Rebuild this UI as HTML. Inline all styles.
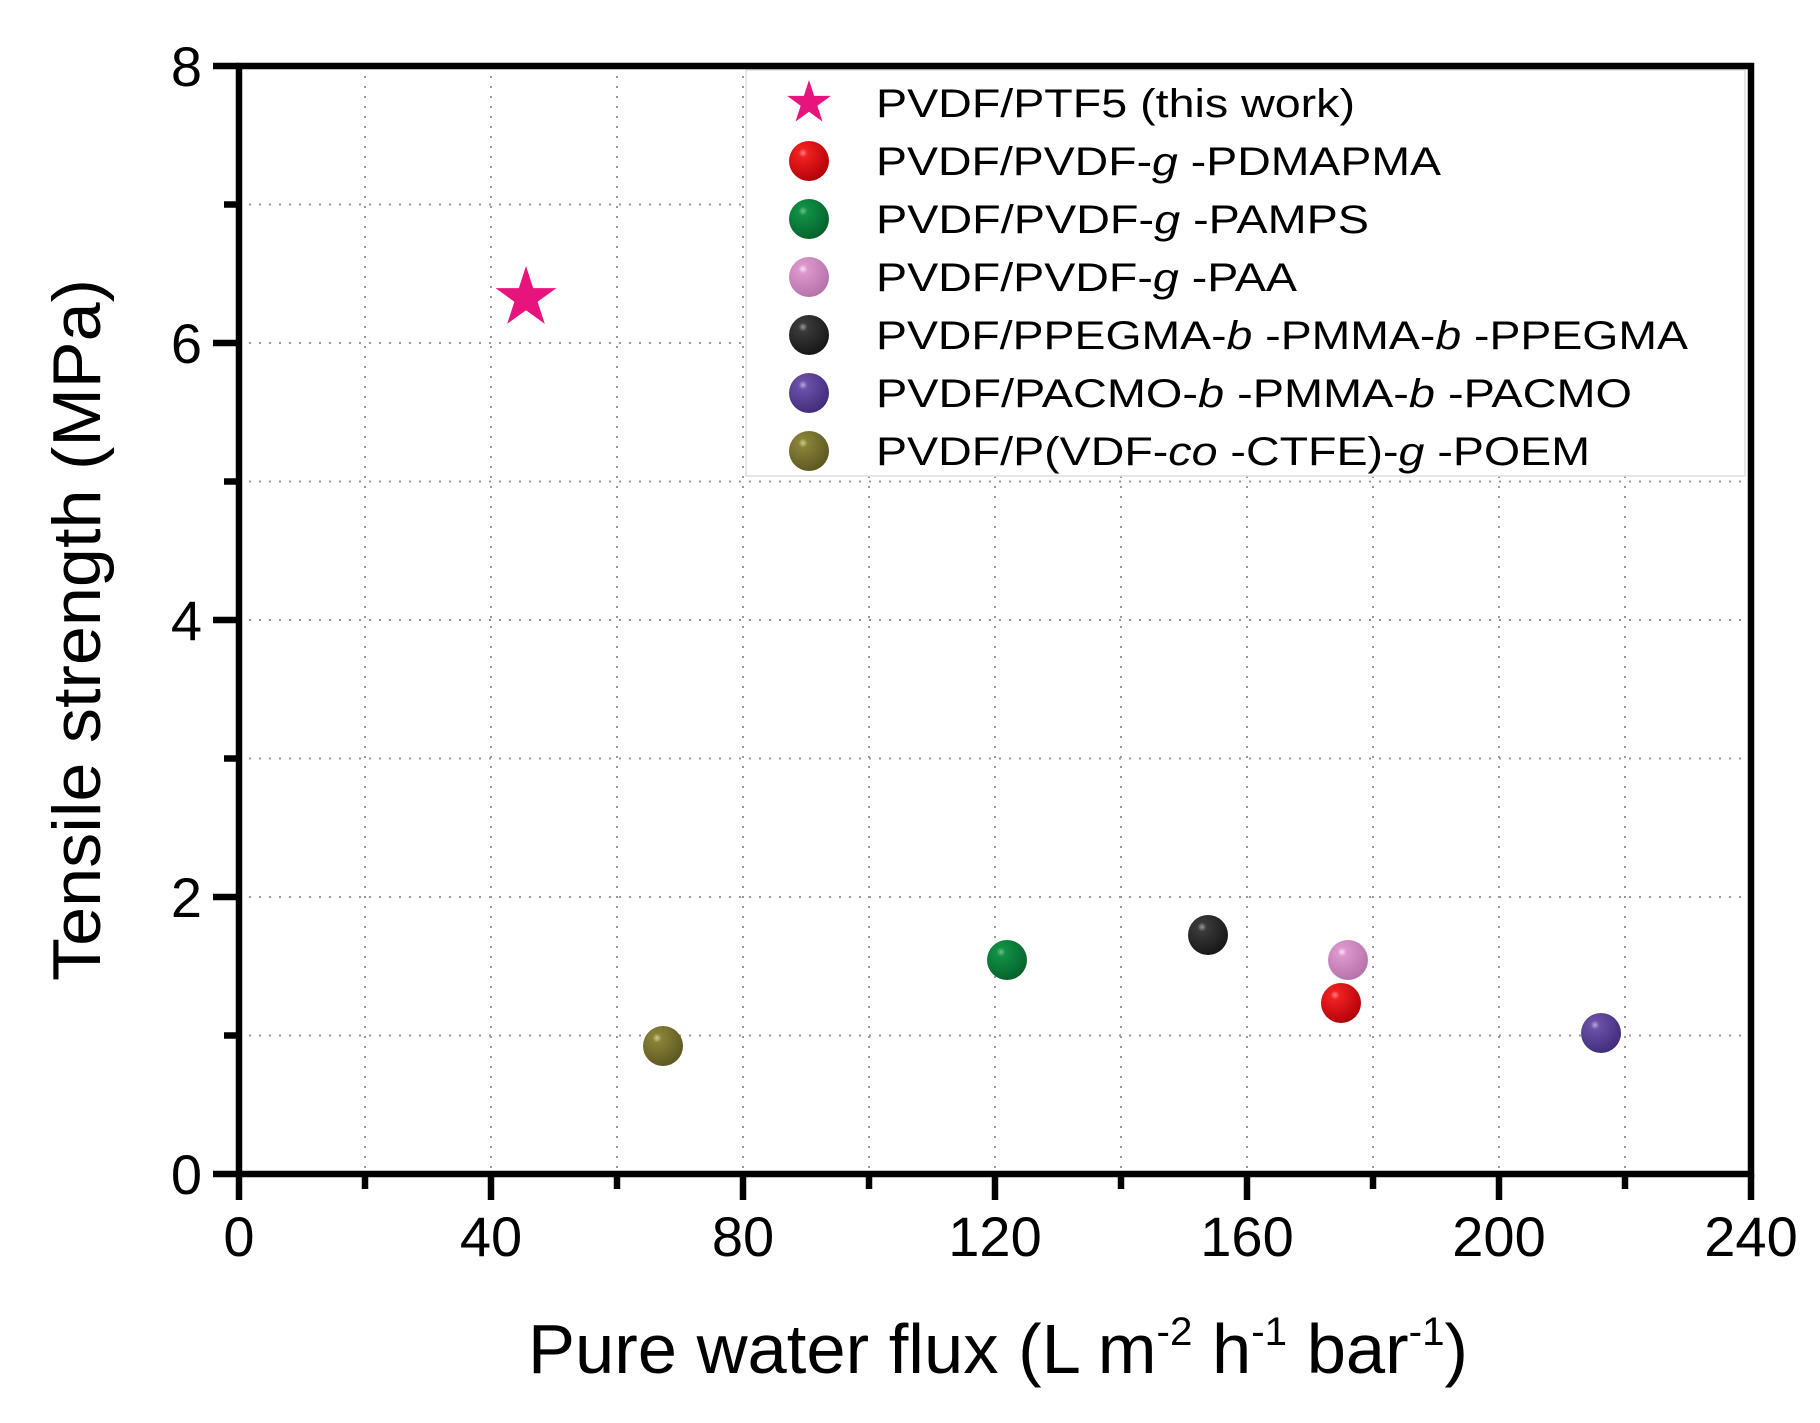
<!DOCTYPE html>
<html><head><meta charset="utf-8"><style>html,body{margin:0;padding:0;background:#fff}svg{display:block}</style></head>
<body>
<svg width="1820" height="1423" viewBox="0 0 1820 1423" xmlns="http://www.w3.org/2000/svg" font-family="Liberation Sans, Arial, sans-serif">
<defs>
<radialGradient id="gr" cx="0.35" cy="0.3" r="0.75"><stop offset="0" stop-color="#ff8080"/><stop offset="0.15" stop-color="#f02020"/><stop offset="1" stop-color="#b00008"/></radialGradient>
<radialGradient id="gg" cx="0.35" cy="0.3" r="0.75"><stop offset="0" stop-color="#70c090"/><stop offset="0.15" stop-color="#119045"/><stop offset="1" stop-color="#05602a"/></radialGradient>
<radialGradient id="gp" cx="0.35" cy="0.3" r="0.75"><stop offset="0" stop-color="#fbe0f4"/><stop offset="0.15" stop-color="#dc98cc"/><stop offset="1" stop-color="#b470a8"/></radialGradient>
<radialGradient id="gk" cx="0.35" cy="0.3" r="0.75"><stop offset="0" stop-color="#999"/><stop offset="0.15" stop-color="#3a3a3a"/><stop offset="1" stop-color="#151515"/></radialGradient>
<radialGradient id="gu" cx="0.35" cy="0.3" r="0.75"><stop offset="0" stop-color="#b8a8e0"/><stop offset="0.15" stop-color="#6a50a8"/><stop offset="1" stop-color="#3f2c78"/></radialGradient>
<radialGradient id="go" cx="0.35" cy="0.3" r="0.75"><stop offset="0" stop-color="#d0cc90"/><stop offset="0.15" stop-color="#888238"/><stop offset="1" stop-color="#5a5620"/></radialGradient>
</defs>
<g stroke="#999" stroke-width="2" stroke-dasharray="2,8">
<line x1="365" y1="66" x2="365" y2="1172"/><line x1="491" y1="66" x2="491" y2="1172"/><line x1="617" y1="66" x2="617" y2="1172"/><line x1="743" y1="66" x2="743" y2="1172"/><line x1="869" y1="66" x2="869" y2="1172"/><line x1="995" y1="66" x2="995" y2="1172"/><line x1="1121" y1="66" x2="1121" y2="1172"/><line x1="1247" y1="66" x2="1247" y2="1172"/><line x1="1373" y1="66" x2="1373" y2="1172"/><line x1="1499" y1="66" x2="1499" y2="1172"/><line x1="1625" y1="66" x2="1625" y2="1172"/>
<line x1="239" y1="1035.5" x2="1751" y2="1035.5"/><line x1="239" y1="897" x2="1751" y2="897"/><line x1="239" y1="758.5" x2="1751" y2="758.5"/><line x1="239" y1="620" x2="1751" y2="620"/><line x1="239" y1="481.5" x2="1751" y2="481.5"/><line x1="239" y1="343" x2="1751" y2="343"/><line x1="239" y1="204.5" x2="1751" y2="204.5"/>
</g>
<rect x="746" y="70" width="999" height="406" fill="#fff" stroke="#ddd" stroke-width="1.5"/>
<rect x="239" y="66" width="1512" height="1108" fill="none" stroke="#000" stroke-width="6.5"/>
<g stroke="#000" stroke-width="6.5">
<line x1="239" y1="1174" x2="239" y2="1200"/><line x1="491" y1="1174" x2="491" y2="1200"/><line x1="743" y1="1174" x2="743" y2="1200"/><line x1="995" y1="1174" x2="995" y2="1200"/><line x1="1247" y1="1174" x2="1247" y2="1200"/><line x1="1499" y1="1174" x2="1499" y2="1200"/><line x1="1751" y1="1174" x2="1751" y2="1200"/>
<line x1="365" y1="1174" x2="365" y2="1189"/><line x1="617" y1="1174" x2="617" y2="1189"/><line x1="869" y1="1174" x2="869" y2="1189"/><line x1="1121" y1="1174" x2="1121" y2="1189"/><line x1="1373" y1="1174" x2="1373" y2="1189"/><line x1="1625" y1="1174" x2="1625" y2="1189"/>
<line x1="213" y1="1174" x2="239" y2="1174"/><line x1="213" y1="897" x2="239" y2="897"/><line x1="213" y1="620" x2="239" y2="620"/><line x1="213" y1="343" x2="239" y2="343"/><line x1="213" y1="66" x2="239" y2="66"/>
<line x1="224" y1="1035.5" x2="239" y2="1035.5"/><line x1="224" y1="758.5" x2="239" y2="758.5"/><line x1="224" y1="481.5" x2="239" y2="481.5"/><line x1="224" y1="204.5" x2="239" y2="204.5"/>
</g>
<g font-size="56" text-anchor="middle" fill="#000">
<text x="239" y="1256">0</text><text x="491" y="1256">40</text><text x="743" y="1256">80</text><text x="995" y="1256">120</text><text x="1247" y="1256">160</text><text x="1499" y="1256">200</text><text x="1751" y="1256">240</text>
</g>
<g font-size="56" text-anchor="end" fill="#000">
<text x="202" y="1194">0</text><text x="202" y="917">2</text><text x="202" y="640">4</text><text x="202" y="363">6</text><text x="202" y="86">8</text>
</g>
<text x="528" y="1373" font-size="70" textLength="940" lengthAdjust="spacingAndGlyphs">Pure water flux (L m<tspan dy="-28" font-size="40">-2</tspan><tspan dy="28"> h</tspan><tspan dy="-28" font-size="40">-1</tspan><tspan dy="28"> bar</tspan><tspan dy="-28" font-size="40">-1</tspan><tspan dy="28">)</tspan></text>
<text transform="translate(100,630) rotate(-90)" font-size="68" text-anchor="middle" textLength="702" lengthAdjust="spacingAndGlyphs">Tensile strength (MPa)</text>
<g font-size="40" fill="#000">
<text x="876" y="117" textLength="479" lengthAdjust="spacingAndGlyphs">PVDF/PTF5 (this work)</text>
<text x="876" y="175" textLength="565" lengthAdjust="spacingAndGlyphs">PVDF/PVDF-<tspan font-style="italic">g</tspan> -PDMAPMA</text>
<text x="876" y="233" textLength="493" lengthAdjust="spacingAndGlyphs">PVDF/PVDF-<tspan font-style="italic">g</tspan> -PAMPS</text>
<text x="876" y="291" textLength="421" lengthAdjust="spacingAndGlyphs">PVDF/PVDF-<tspan font-style="italic">g</tspan> -PAA</text>
<text x="876" y="349" textLength="812" lengthAdjust="spacingAndGlyphs">PVDF/PPEGMA-<tspan font-style="italic">b</tspan> -PMMA-<tspan font-style="italic">b</tspan> -PPEGMA</text>
<text x="876" y="407" textLength="756" lengthAdjust="spacingAndGlyphs">PVDF/PACMO-<tspan font-style="italic">b</tspan> -PMMA-<tspan font-style="italic">b</tspan> -PACMO</text>
<text x="876" y="465" textLength="714" lengthAdjust="spacingAndGlyphs">PVDF/P(VDF-<tspan font-style="italic">co</tspan> -CTFE)-<tspan font-style="italic">g</tspan> -POEM</text>
</g>
<polygon fill="#e8147e" transform="translate(809,103) scale(23)" points="0,-1 0.2245,-0.309 0.951,-0.309 0.363,0.118 0.588,0.809 0,0.382 -0.588,0.809 -0.363,0.118 -0.951,-0.309 -0.2245,-0.309"/>
<circle cx="809" cy="161" r="20" fill="url(#gr)"/>
<circle cx="809" cy="219" r="20" fill="url(#gg)"/>
<circle cx="809" cy="277" r="20" fill="url(#gp)"/>
<circle cx="809" cy="335" r="20" fill="url(#gk)"/>
<circle cx="809" cy="393" r="20" fill="url(#gu)"/>
<circle cx="809" cy="451" r="20" fill="url(#go)"/>
<polygon fill="#e8147e" transform="translate(526,298) scale(32)" points="0,-1 0.2245,-0.309 0.951,-0.309 0.363,0.118 0.588,0.809 0,0.382 -0.588,0.809 -0.363,0.118 -0.951,-0.309 -0.2245,-0.309"/>
<circle cx="1007" cy="960" r="20" fill="url(#gg)"/>
<circle cx="1208" cy="935" r="20" fill="url(#gk)"/>
<circle cx="1348" cy="960" r="20" fill="url(#gp)"/>
<circle cx="1341" cy="1003" r="20" fill="url(#gr)"/>
<circle cx="1601" cy="1033" r="20" fill="url(#gu)"/>
<circle cx="663" cy="1046" r="20" fill="url(#go)"/>
</svg>
</body></html>
